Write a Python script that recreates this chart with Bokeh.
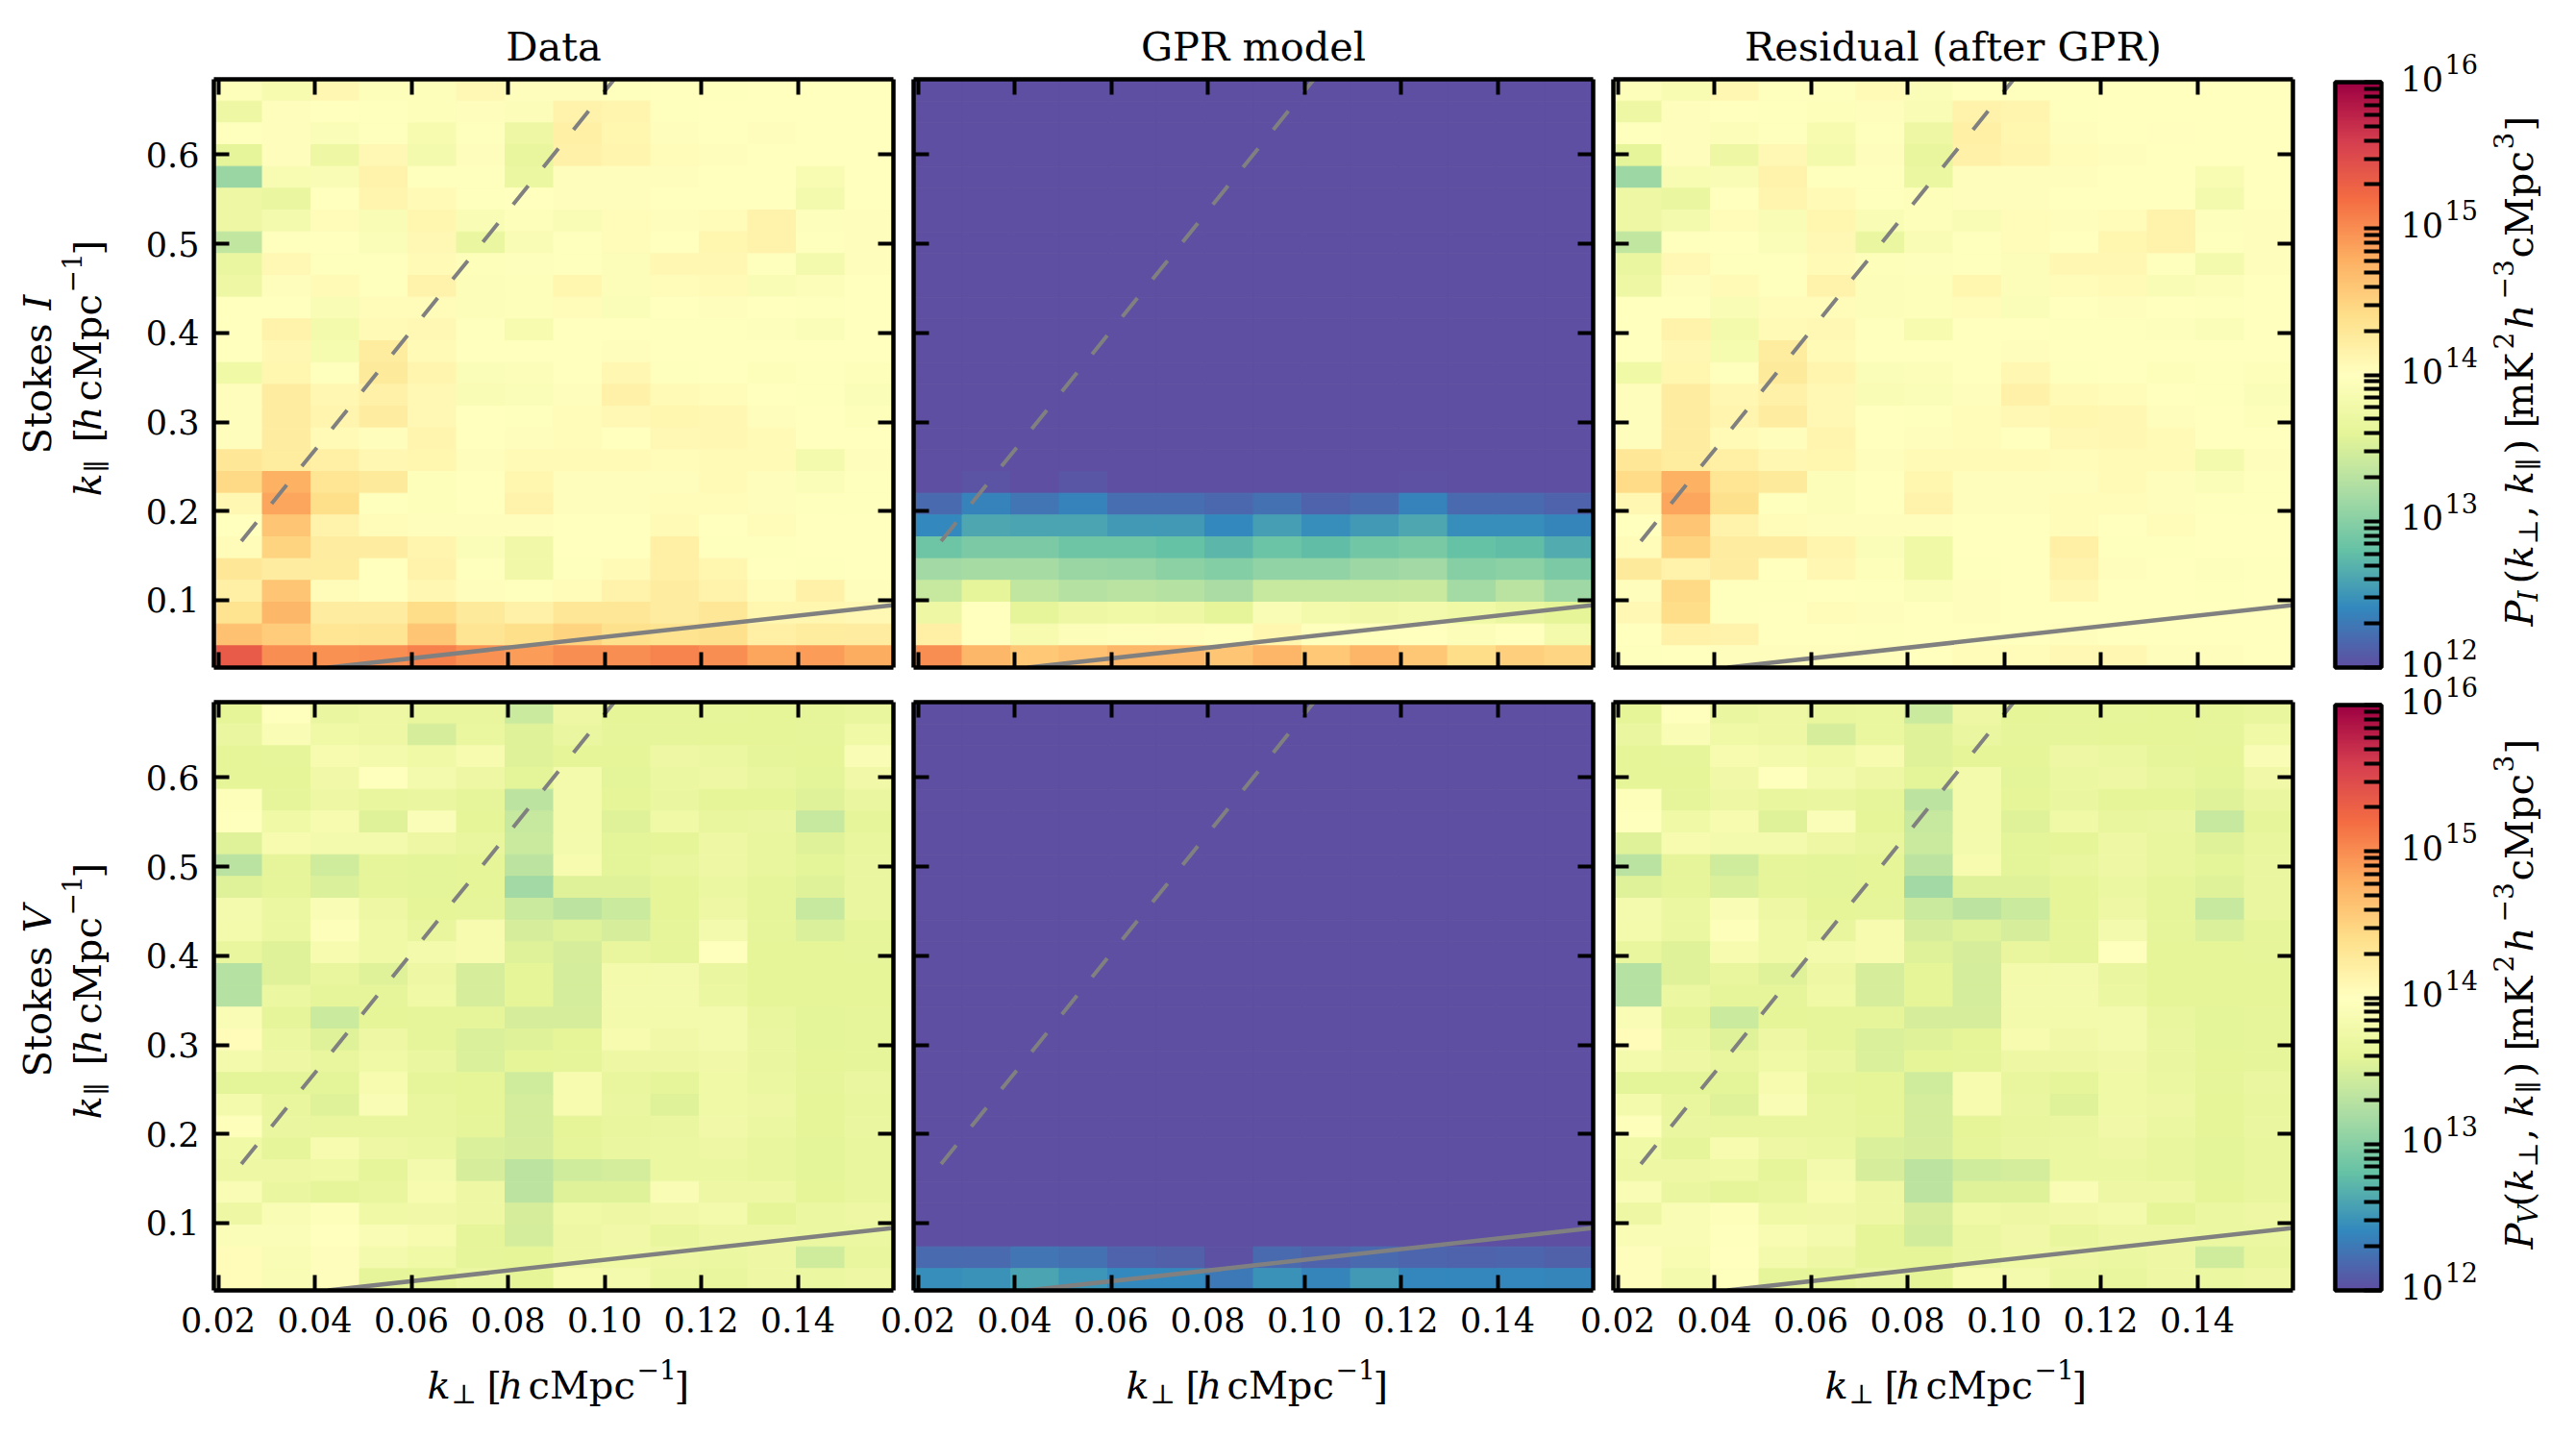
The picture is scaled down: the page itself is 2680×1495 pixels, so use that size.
#!/usr/bin/env python3
# -*- coding: utf-8 -*-
import math

import numpy as np
from bokeh.embed import file_html
from bokeh.layouts import column, row
from bokeh.models import (
    ColorBar,
    ColumnDataSource,
    CustomJSTickFormatter,
    FixedTicker,
    Label,
    LinearAxis,
    LogColorMapper,
    PrintfTickFormatter,
    Range1d,
)
from bokeh.plotting import figure
from bokeh.resources import INLINE

FONT = "DejaVu Serif"
SPECTRAL = ["#5e4fa2", "#3288bd", "#66c2a5", "#abdda4", "#e6f598", "#ffffbf",
            "#fee08b", "#fdae61", "#f46d43", "#d53e4f", "#9e0142"]

TITLES = ["Data", "GPR model", "Residual (after GPR)"]
K_PERP_TICKS = [0.02, 0.04, 0.06, 0.08, 0.10, 0.12, 0.14]
K_PAR_TICKS = [0.1, 0.2, 0.3, 0.4, 0.5, 0.6]
COLORBAR_TICKS = [1e12, 1e13, 1e14, 1e15, 1e16]
COLORBAR_EXPONENTS = ["12", "13", "14", "15", "16"]

WEDGE_X = [0.0427, 0.1598]
WEDGE_Y = [0.0245, 0.0945]
HORIZON_X = [0.0248, 0.102]
HORIZON_Y = [0.1664, 0.6845]

# log10 of the power, rows run top to bottom of the panel
DATA_I = [
    [13.95, 13.85, 14.10, 13.95, 13.95, 14.08, 14.03, 14.02, 13.98, 14.00, 13.98, 14.00, 14.00, 14.00],
    [13.72, 14.03, 14.00, 13.98, 13.95, 14.03, 13.93, 14.15, 14.13, 13.97, 14.00, 14.00, 14.00, 14.00],
    [13.98, 14.03, 13.92, 13.98, 13.85, 13.98, 13.72, 14.20, 14.12, 14.03, 14.00, 14.02, 14.00, 14.00],
    [13.62, 14.03, 13.72, 14.08, 13.82, 14.02, 13.65, 14.18, 14.13, 14.05, 14.02, 14.00, 14.00, 14.00],
    [13.10, 13.87, 13.90, 14.16, 13.97, 13.97, 13.70, 14.03, 14.03, 14.02, 14.00, 14.00, 13.87, 14.00],
    [13.72, 13.68, 14.00, 14.13, 14.07, 13.98, 14.00, 14.03, 14.02, 14.00, 14.00, 14.00, 13.82, 14.00],
    [13.72, 13.82, 14.06, 13.88, 14.12, 13.90, 13.94, 13.90, 14.05, 14.03, 14.05, 14.16, 13.96, 14.02],
    [13.35, 13.98, 14.00, 13.92, 14.08, 13.68, 13.88, 13.97, 14.05, 13.99, 14.12, 14.17, 13.97, 14.03],
    [13.68, 14.08, 13.98, 13.97, 14.07, 13.95, 13.96, 13.98, 13.93, 14.10, 14.10, 13.97, 13.82, 14.03],
    [13.72, 14.02, 14.07, 13.98, 14.15, 13.93, 13.95, 14.12, 13.93, 14.06, 14.07, 13.90, 13.93, 14.00],
    [14.00, 14.00, 13.90, 14.06, 14.06, 13.93, 13.94, 14.06, 13.92, 14.00, 14.02, 14.00, 13.97, 14.00],
    [14.00, 14.16, 13.80, 14.07, 14.08, 13.97, 13.85, 14.00, 14.00, 13.98, 13.97, 13.96, 13.92, 14.00],
    [14.00, 14.10, 13.83, 14.25, 14.07, 14.00, 14.00, 14.00, 14.03, 14.00, 14.00, 14.00, 14.00, 14.00],
    [13.75, 14.12, 13.98, 14.27, 14.13, 13.92, 13.93, 14.00, 14.10, 13.98, 14.00, 13.94, 13.97, 13.94],
    [14.02, 14.22, 14.10, 14.18, 14.08, 13.90, 13.92, 14.02, 14.18, 14.07, 14.05, 14.00, 13.98, 13.92],
    [14.02, 14.22, 14.13, 14.23, 14.08, 14.00, 13.97, 14.05, 14.08, 14.12, 14.10, 14.03, 14.00, 13.95],
    [14.02, 14.22, 14.07, 14.03, 14.13, 14.00, 14.02, 14.04, 14.00, 14.08, 14.10, 14.07, 14.00, 14.00],
    [14.30, 14.25, 14.20, 14.10, 14.12, 14.02, 14.07, 14.07, 14.07, 14.05, 14.07, 14.07, 13.82, 14.03],
    [14.45, 14.78, 14.32, 14.28, 13.95, 14.00, 14.12, 14.03, 14.03, 14.02, 14.07, 14.02, 13.92, 13.98],
    [14.10, 14.85, 14.40, 13.98, 13.95, 14.00, 14.15, 14.03, 14.03, 14.05, 14.05, 14.03, 13.97, 13.98],
    [14.00, 14.62, 14.15, 14.05, 14.02, 14.02, 14.02, 14.00, 14.00, 14.07, 14.00, 14.05, 14.00, 14.00],
    [14.05, 14.50, 14.22, 14.22, 14.13, 13.92, 13.78, 14.00, 14.00, 14.20, 13.97, 13.97, 14.00, 14.00],
    [14.30, 14.22, 14.24, 14.00, 14.15, 13.97, 13.78, 13.97, 14.07, 14.20, 14.12, 14.00, 13.98, 13.99],
    [14.20, 14.62, 14.05, 14.00, 14.10, 14.03, 13.98, 14.05, 14.15, 14.23, 14.15, 14.05, 14.18, 14.03],
    [14.35, 14.72, 14.22, 14.22, 14.42, 14.27, 14.18, 14.30, 14.30, 14.22, 14.30, 14.12, 14.12, 14.08],
    [14.65, 14.55, 14.32, 14.33, 14.62, 14.33, 14.40, 14.50, 14.38, 14.35, 14.38, 14.20, 14.25, 14.22],
    [15.35, 15.00, 14.98, 15.00, 15.07, 14.98, 14.90, 15.00, 15.00, 15.05, 15.00, 14.85, 14.90, 14.80],
]

MODEL_I_FLOOR = [12.0] * 14
MODEL_I = [MODEL_I_FLOOR] * 18 + [
    [12.00, 12.04, 12.00, 12.06, 12.00, 12.00, 12.00, 12.00, 12.00, 12.00, 12.03, 12.00, 12.00, 12.00],
    [12.20, 12.37, 12.27, 12.37, 12.23, 12.22, 12.18, 12.25, 12.15, 12.20, 12.36, 12.20, 12.20, 12.15],
    [12.42, 12.62, 12.60, 12.60, 12.52, 12.53, 12.42, 12.55, 12.45, 12.52, 12.62, 12.44, 12.44, 12.38],
    [12.85, 12.93, 12.93, 12.85, 12.85, 12.80, 12.72, 12.83, 12.78, 12.87, 12.92, 12.80, 12.78, 12.65],
    [13.15, 13.18, 13.18, 13.10, 13.08, 13.03, 12.97, 13.06, 13.05, 13.12, 13.15, 13.00, 13.02, 12.93],
    [13.38, 13.62, 13.35, 13.28, 13.30, 13.27, 13.20, 13.38, 13.38, 13.38, 13.40, 13.17, 13.30, 13.13],
    [13.72, 14.00, 13.62, 13.72, 13.75, 13.72, 13.62, 13.90, 13.80, 13.78, 13.80, 13.75, 13.68, 13.60],
    [14.20, 14.00, 13.85, 13.93, 13.96, 14.03, 13.97, 14.12, 13.98, 13.98, 14.00, 13.93, 14.00, 13.80],
    [15.00, 14.72, 14.58, 14.65, 14.72, 14.72, 14.62, 14.75, 14.58, 14.75, 14.60, 14.42, 14.52, 14.48],
]

RESIDUAL_I = [
    [13.95, 13.86, 14.10, 13.97, 13.97, 14.07, 13.92, 14.00, 13.98, 14.00, 13.99, 14.00, 14.00, 14.00],
    [13.72, 14.03, 14.00, 13.98, 13.95, 14.03, 13.90, 14.16, 14.13, 13.97, 14.00, 14.00, 14.00, 14.00],
    [13.97, 14.03, 13.93, 13.97, 13.85, 13.98, 13.72, 14.20, 14.12, 14.03, 14.00, 14.01, 14.00, 14.00],
    [13.62, 14.03, 13.72, 14.08, 13.80, 14.02, 13.65, 14.18, 14.13, 14.05, 14.02, 14.00, 14.00, 14.00],
    [13.12, 13.87, 13.90, 14.16, 13.97, 13.97, 13.70, 14.03, 14.02, 14.02, 14.00, 14.00, 13.87, 14.00],
    [13.72, 13.68, 14.00, 14.13, 14.07, 13.98, 13.95, 14.03, 14.02, 14.00, 14.00, 14.00, 13.82, 14.00],
    [13.72, 13.82, 14.06, 13.88, 14.12, 13.90, 13.94, 13.90, 14.05, 14.03, 14.05, 14.16, 13.96, 14.02],
    [13.35, 13.98, 14.00, 13.92, 14.08, 13.68, 13.88, 13.97, 14.05, 13.99, 14.12, 14.17, 13.97, 14.03],
    [13.68, 14.08, 13.98, 13.97, 14.07, 13.95, 13.96, 13.98, 13.93, 14.10, 14.10, 13.97, 13.82, 14.03],
    [13.72, 14.02, 14.07, 13.98, 14.15, 13.93, 13.95, 14.12, 13.93, 14.06, 14.07, 13.90, 13.93, 14.00],
    [14.00, 14.00, 13.90, 14.06, 14.06, 13.93, 13.94, 14.06, 13.92, 14.00, 14.02, 14.00, 13.97, 14.00],
    [14.00, 14.16, 13.80, 14.07, 14.08, 13.97, 13.85, 14.00, 14.00, 13.98, 13.97, 13.96, 13.92, 14.00],
    [14.00, 14.10, 13.83, 14.25, 14.07, 14.00, 14.00, 14.00, 14.03, 14.00, 14.00, 14.00, 14.00, 14.00],
    [13.75, 14.12, 13.98, 14.27, 14.13, 13.92, 13.93, 14.00, 14.10, 13.98, 14.00, 13.94, 13.97, 13.94],
    [14.02, 14.22, 14.10, 14.18, 14.08, 13.90, 13.92, 14.02, 14.18, 14.07, 14.05, 14.00, 13.98, 13.92],
    [14.02, 14.22, 14.13, 14.23, 14.08, 14.00, 13.97, 14.05, 14.08, 14.12, 14.10, 14.03, 14.00, 13.95],
    [14.02, 14.22, 14.07, 14.03, 14.13, 14.00, 14.02, 14.04, 14.00, 14.08, 14.10, 14.07, 14.00, 14.00],
    [14.30, 14.25, 14.20, 14.10, 14.12, 14.02, 14.07, 14.07, 14.07, 14.05, 14.07, 14.07, 13.82, 14.03],
    [14.43, 14.78, 14.32, 14.28, 13.93, 14.00, 14.12, 14.03, 14.03, 14.02, 14.07, 14.02, 13.92, 13.98],
    [14.10, 14.85, 14.38, 13.98, 13.93, 14.00, 14.15, 14.03, 14.03, 14.05, 14.05, 14.03, 13.97, 13.98],
    [14.00, 14.62, 14.15, 14.05, 14.02, 14.02, 14.02, 14.00, 14.00, 14.06, 14.00, 14.05, 14.00, 14.00],
    [14.05, 14.50, 14.22, 14.22, 14.13, 13.92, 13.75, 14.00, 14.00, 14.20, 13.97, 13.97, 14.00, 14.00],
    [14.28, 14.17, 14.22, 14.00, 14.10, 13.95, 13.75, 13.97, 14.00, 14.15, 14.03, 14.00, 13.96, 13.98],
    [14.02, 14.45, 13.98, 13.97, 13.99, 13.98, 13.92, 14.02, 14.00, 14.10, 14.00, 14.00, 13.98, 14.00],
    [14.08, 14.42, 13.98, 14.00, 14.05, 14.03, 14.00, 14.02, 14.00, 14.00, 14.00, 14.00, 14.00, 14.00],
    [14.00, 14.18, 14.15, 14.00, 14.00, 13.98, 14.00, 14.00, 14.00, 14.02, 14.00, 14.00, 14.00, 14.00],
    [13.98, 14.00, 14.03, 14.03, 14.02, 14.02, 14.00, 14.05, 14.05, 14.08, 14.10, 14.03, 14.02, 14.00],
]

DATA_V = [
    [13.60, 13.98, 13.68, 13.72, 13.65, 13.65, 13.42, 13.72, 13.60, 13.62, 13.62, 13.60, 13.62, 13.65],
    [13.68, 13.88, 13.75, 13.72, 13.50, 13.67, 13.55, 13.68, 13.62, 13.62, 13.60, 13.60, 13.62, 13.75],
    [13.60, 13.62, 13.85, 13.80, 13.75, 13.85, 13.55, 13.60, 13.60, 13.72, 13.70, 13.62, 13.60, 13.90],
    [13.60, 13.60, 13.78, 13.98, 13.82, 13.72, 13.58, 13.80, 13.58, 13.70, 13.72, 13.65, 13.58, 13.78],
    [13.95, 13.62, 13.72, 13.65, 13.68, 13.62, 13.32, 13.80, 13.60, 13.68, 13.60, 13.60, 13.55, 13.68],
    [13.98, 13.75, 13.85, 13.55, 13.92, 13.60, 13.38, 13.80, 13.55, 13.75, 13.65, 13.68, 13.38, 13.62],
    [13.55, 13.85, 13.82, 13.82, 13.72, 13.65, 13.42, 13.82, 13.58, 13.60, 13.72, 13.65, 13.55, 13.65],
    [13.30, 13.62, 13.45, 13.62, 13.58, 13.60, 13.32, 13.85, 13.58, 13.65, 13.72, 13.65, 13.58, 13.68],
    [13.55, 13.62, 13.52, 13.62, 13.58, 13.60, 13.15, 13.55, 13.55, 13.60, 13.70, 13.62, 13.55, 13.68],
    [13.82, 13.70, 13.90, 13.72, 13.60, 13.62, 13.42, 13.32, 13.42, 13.60, 13.72, 13.62, 13.38, 13.68],
    [13.80, 13.70, 13.95, 13.75, 13.65, 13.85, 13.50, 13.55, 13.50, 13.62, 13.82, 13.62, 13.52, 13.62],
    [13.65, 13.55, 13.85, 13.75, 13.80, 13.85, 13.55, 13.50, 13.65, 13.62, 13.98, 13.60, 13.60, 13.62],
    [13.28, 13.55, 13.65, 13.55, 13.72, 13.50, 13.60, 13.48, 13.80, 13.82, 13.68, 13.60, 13.60, 13.60],
    [13.28, 13.70, 13.62, 13.62, 13.75, 13.50, 13.60, 13.48, 13.82, 13.82, 13.70, 13.60, 13.60, 13.60],
    [13.90, 13.62, 13.42, 13.60, 13.62, 13.62, 13.50, 13.50, 13.80, 13.80, 13.82, 13.65, 13.58, 13.62],
    [14.05, 13.70, 13.55, 13.72, 13.62, 13.52, 13.55, 13.60, 13.85, 13.78, 13.82, 13.68, 13.58, 13.62],
    [13.80, 13.72, 13.65, 13.75, 13.68, 13.52, 13.60, 13.62, 13.72, 13.72, 13.78, 13.68, 13.60, 13.62],
    [13.58, 13.58, 13.58, 13.85, 13.62, 13.60, 13.45, 13.85, 13.65, 13.62, 13.75, 13.70, 13.62, 13.68],
    [13.80, 13.65, 13.55, 13.88, 13.65, 13.60, 13.48, 13.85, 13.68, 13.55, 13.75, 13.72, 13.60, 13.65],
    [13.95, 13.68, 13.65, 13.65, 13.65, 13.62, 13.48, 13.60, 13.65, 13.68, 13.78, 13.70, 13.60, 13.68],
    [13.75, 13.62, 13.85, 13.72, 13.70, 13.52, 13.50, 13.62, 13.68, 13.70, 13.72, 13.65, 13.58, 13.65],
    [13.72, 13.72, 13.75, 13.62, 13.82, 13.50, 13.32, 13.45, 13.48, 13.70, 13.70, 13.65, 13.58, 13.65],
    [13.88, 13.68, 13.62, 13.65, 13.85, 13.72, 13.32, 13.55, 13.55, 13.88, 13.72, 13.72, 13.60, 13.65],
    [13.72, 13.88, 13.95, 13.75, 13.78, 13.72, 13.50, 13.75, 13.72, 13.78, 13.80, 13.60, 13.70, 13.72],
    [13.92, 13.92, 14.00, 13.88, 13.85, 13.62, 13.48, 13.72, 13.78, 13.65, 13.72, 13.72, 13.70, 13.70],
    [14.05, 13.88, 14.03, 13.82, 13.75, 13.62, 13.60, 13.72, 13.75, 13.72, 13.70, 13.72, 13.45, 13.65],
    [14.05, 13.88, 14.03, 13.62, 13.60, 13.70, 13.60, 13.85, 13.82, 13.70, 13.65, 13.72, 13.70, 13.72],
]

MODEL_V_FLOOR = [12.0] * 14
MODEL_V = [MODEL_V_FLOOR] * 25 + [
    [12.20, 12.20, 12.27, 12.25, 12.15, 12.12, 12.03, 12.20, 12.15, 12.20, 12.17, 12.15, 12.17, 12.13],
    [12.45, 12.47, 12.60, 12.50, 12.42, 12.42, 12.30, 12.48, 12.38, 12.53, 12.40, 12.40, 12.40, 12.38],
]

RESIDUAL_V = [
    [13.60, 13.98, 13.68, 13.72, 13.65, 13.66, 13.42, 13.72, 13.60, 13.62, 13.62, 13.60, 13.62, 13.65],
    [13.68, 13.88, 13.75, 13.72, 13.50, 13.67, 13.55, 13.68, 13.62, 13.62, 13.60, 13.60, 13.62, 13.75],
    [13.60, 13.62, 13.85, 13.80, 13.75, 13.85, 13.55, 13.60, 13.60, 13.72, 13.70, 13.62, 13.60, 13.90],
    [13.60, 13.60, 13.78, 13.98, 13.82, 13.72, 13.58, 13.80, 13.58, 13.70, 13.72, 13.65, 13.58, 13.78],
    [13.95, 13.62, 13.72, 13.65, 13.68, 13.62, 13.32, 13.80, 13.60, 13.68, 13.60, 13.60, 13.55, 13.68],
    [13.98, 13.75, 13.85, 13.55, 13.92, 13.60, 13.38, 13.80, 13.55, 13.75, 13.65, 13.68, 13.38, 13.62],
    [13.55, 13.85, 13.82, 13.82, 13.72, 13.65, 13.42, 13.82, 13.58, 13.60, 13.72, 13.65, 13.55, 13.65],
    [13.30, 13.62, 13.45, 13.62, 13.58, 13.60, 13.32, 13.85, 13.58, 13.65, 13.72, 13.65, 13.58, 13.68],
    [13.55, 13.62, 13.52, 13.62, 13.58, 13.60, 13.15, 13.55, 13.55, 13.60, 13.70, 13.62, 13.55, 13.68],
    [13.82, 13.70, 13.90, 13.72, 13.60, 13.62, 13.42, 13.32, 13.42, 13.60, 13.72, 13.62, 13.38, 13.68],
    [13.80, 13.70, 13.95, 13.75, 13.65, 13.85, 13.50, 13.55, 13.50, 13.62, 13.82, 13.62, 13.52, 13.62],
    [13.65, 13.55, 13.85, 13.75, 13.80, 13.85, 13.55, 13.50, 13.65, 13.62, 13.98, 13.60, 13.60, 13.62],
    [13.28, 13.55, 13.65, 13.55, 13.72, 13.50, 13.60, 13.48, 13.80, 13.82, 13.68, 13.60, 13.60, 13.60],
    [13.28, 13.70, 13.62, 13.62, 13.75, 13.50, 13.60, 13.48, 13.82, 13.82, 13.70, 13.60, 13.60, 13.60],
    [13.90, 13.62, 13.42, 13.60, 13.62, 13.62, 13.50, 13.50, 13.80, 13.80, 13.82, 13.65, 13.58, 13.62],
    [14.05, 13.70, 13.55, 13.72, 13.62, 13.52, 13.55, 13.60, 13.85, 13.78, 13.82, 13.68, 13.58, 13.62],
    [13.80, 13.72, 13.65, 13.75, 13.68, 13.52, 13.60, 13.62, 13.72, 13.72, 13.78, 13.68, 13.60, 13.62],
    [13.58, 13.58, 13.58, 13.85, 13.62, 13.60, 13.45, 13.85, 13.65, 13.62, 13.75, 13.70, 13.62, 13.68],
    [13.80, 13.65, 13.55, 13.88, 13.65, 13.60, 13.48, 13.85, 13.68, 13.55, 13.75, 13.72, 13.60, 13.65],
    [13.95, 13.68, 13.65, 13.65, 13.65, 13.62, 13.48, 13.60, 13.65, 13.68, 13.78, 13.70, 13.60, 13.68],
    [13.75, 13.62, 13.85, 13.72, 13.70, 13.52, 13.50, 13.62, 13.68, 13.70, 13.72, 13.65, 13.58, 13.65],
    [13.72, 13.72, 13.75, 13.62, 13.82, 13.50, 13.32, 13.45, 13.48, 13.70, 13.70, 13.65, 13.58, 13.65],
    [13.88, 13.68, 13.62, 13.65, 13.85, 13.72, 13.32, 13.55, 13.55, 13.88, 13.72, 13.72, 13.60, 13.65],
    [13.72, 13.88, 13.95, 13.75, 13.78, 13.72, 13.50, 13.75, 13.72, 13.78, 13.80, 13.60, 13.70, 13.72],
    [13.90, 13.90, 13.98, 13.86, 13.82, 13.60, 13.46, 13.70, 13.78, 13.65, 13.72, 13.72, 13.70, 13.70],
    [14.02, 13.86, 14.00, 13.80, 13.72, 13.60, 13.60, 13.70, 13.75, 13.72, 13.70, 13.72, 13.45, 13.65],
    [14.02, 13.82, 13.98, 13.62, 13.60, 13.68, 13.60, 13.85, 13.82, 13.70, 13.65, 13.72, 13.70, 13.72],
]

X_RANGE = (0.0191, 0.1598)
Y_RANGE = (0.0245, 0.6845)
K_PERP_EDGES = np.linspace(X_RANGE[0], X_RANGE[1], 15)
K_PAR_EDGES = np.linspace(Y_RANGE[1], Y_RANGE[0], 28)

FRAME_W = 707
FRAME_H = 612
LEFT_W = 222
TOP_H = 82
GAP_X = 21
GAP_Y = 36
PAGE_W = 2664
PAGE_H = 1479
ROW_PITCH = 648
COL_PITCH = 727


def spectral_palette(n=256):
    # same linear segments as the matplotlib Spectral map
    rgb = np.array([[int(c[i:i + 2], 16) for i in (1, 3, 5)] for c in SPECTRAL], dtype=float)
    pos = np.linspace(0, 1, len(SPECTRAL))
    t = np.linspace(0, 1, n)
    out = [np.interp(t, pos, rgb[:, i]) for i in range(3)]
    return ["#%02x%02x%02x" % (round(r), round(g), round(b)) for r, g, b in zip(*out)]


def rich_label(p, x, y, parts, angle=0.0):
    # text pieces set one after the other, x and y in page px
    ca, sa = math.cos(angle), math.sin(angle)
    for text, style, size, rise, adv in parts:
        p.add_layout(Label(
            x=x - rise * sa, y=y - rise * ca,
            text=text, angle=angle, text_font=FONT, text_font_style=style,
            text_font_size=f"{size}px", text_color="black",
            text_baseline="alphabetic", text_align="left",
        ))
        x += adv * ca
        y -= adv * sa


def unit_parts():
    return [
        ("[", "normal", 40, 0, 12), ("h", "italic", 40, 0, 31),
        ("cMpc", "normal", 40, 0, 113), ("−1", "normal", 28, 16, 39), ("]", "normal", 40, 0, 10),
    ]


K_PERP_PARTS = [("k", "italic", 40, 0, 25), ("⊥", "normal", 28, -10, 37)] + unit_parts()
K_PAR_PARTS = [("k", "italic", 40, 0, 25), ("∥", "normal", 28, -10, 31)] + unit_parts()


def power_parts(sub):
    return [
        ("P", "italic", 40, 0, 26), (sub, "italic", 28, -10, 18), ("(", "normal", 40, 0, 16),
        ("k", "italic", 40, 0, 25), ("⊥", "normal", 28, -10, 28), (",", "normal", 40, 0, 24),
        ("k", "italic", 40, 0, 25), ("∥", "normal", 28, -10, 17), (")", "normal", 40, 0, 27),
        ("[", "normal", 40, 0, 10), ("mK", "normal", 40, 0, 72), ("2", "normal", 28, 16, 21),
        ("h", "italic", 40, 0, 31), ("−3", "normal", 28, 16, 43), ("cMpc", "normal", 40, 0, 113),
        ("3", "normal", 28, 16, 19), ("]", "normal", 40, 0, 10),
    ]


def panel(values, col, row_idx, mapper):
    p = figure(
        output_backend="svg",
        toolbar_location=None,
        frame_width=FRAME_W,
        frame_height=FRAME_H,
        x_range=Range1d(*X_RANGE),
        y_range=Range1d(*Y_RANGE),
        min_border_left=LEFT_W if col == 0 else 60,
        min_border_right=280 if col == 2 else 10,
        min_border_top=TOP_H if row_idx == 0 else 38,
        min_border_bottom=38 if row_idx == 0 else 130,
        border_fill_color=None,
        background_fill_color=None,
        title=TITLES[col] if row_idx == 0 else None,
    )
    if row_idx == 0:
        p.title.align = "center"
        p.title.text_font = FONT
        p.title.text_font_style = "normal"
        p.title.text_font_size = "41.5px"
        p.title.text_color = "black"
        p.title.standoff = 19

    tops, lefts, rights, bottoms, vals = [], [], [], [], []
    for i, vals_row in enumerate(values):
        for j, v in enumerate(vals_row):
            lefts.append(K_PERP_EDGES[j])
            rights.append(K_PERP_EDGES[j + 1])
            tops.append(K_PAR_EDGES[i])
            bottoms.append(K_PAR_EDGES[i + 1])
            vals.append(10.0 ** v)
    src = ColumnDataSource(data=dict(left=lefts, right=rights, top=tops, bottom=bottoms, value=vals))
    cmap = {"field": "value", "transform": mapper}
    p.quad(left="left", right="right", top="top", bottom="bottom", source=src,
           fill_color=cmap, line_color=cmap, line_width=1)

    p.line(WEDGE_X, WEDGE_Y, line_color="#808080", line_width=4.5)
    p.line(HORIZON_X, HORIZON_Y, line_color="#808080", line_width=4, line_dash="25 25")

    p.grid.visible = False
    p.add_layout(LinearAxis(), "above")
    p.add_layout(LinearAxis(), "right")
    blank = CustomJSTickFormatter(code="return ''")
    for ax in p.xaxis:
        ax.ticker = FixedTicker(ticks=K_PERP_TICKS)
        ax.formatter = blank
    for ax in p.yaxis:
        ax.ticker = FixedTicker(ticks=K_PAR_TICKS)
        ax.formatter = blank
    for ax in p.axis:
        ax.axis_line_color = "black"
        ax.axis_line_width = 4.5
        ax.major_tick_line_color = "black"
        ax.major_tick_line_width = 4
        ax.major_tick_in = 16
        ax.major_tick_out = 0
        ax.minor_tick_line_color = None
        ax.major_label_text_font = FONT
        ax.major_label_text_font_size = "35px"
        ax.major_label_text_color = "black"
        ax.major_label_standoff = 17
    p.left[0].major_label_standoff = 15
    if col == 0:
        p.left[0].formatter = PrintfTickFormatter(format="%.1f")
    if row_idx == 1:
        p.below[0].formatter = PrintfTickFormatter(format="%.2f")
    if col == 2:
        bar = ColorBar(
            color_mapper=mapper,
            ticker=FixedTicker(
                ticks=COLORBAR_TICKS,
                minor_ticks=[m * d for d in COLORBAR_TICKS[:-1] for m in range(2, 10)],
            ),
            formatter=blank,
            location=(751, 0),
            width=48,
            height=FRAME_H - 3,
            padding=0,
            margin=0,
            major_tick_line_color="black",
            major_tick_line_width=4,
            major_tick_in=18,
            minor_tick_line_color="black",
            minor_tick_line_width=4,
            minor_tick_in=18,
            bar_line_color="black",
            bar_line_width=4.5,
        )
        p.add_layout(bar)
    return p


def text_layer():
    # see-through page sized plot that holds the mixed style labels
    p = figure(
        output_backend="svg",
        toolbar_location=None,
        width=PAGE_W,
        height=PAGE_H,
        x_range=Range1d(0, PAGE_W),
        y_range=Range1d(PAGE_H, 0),
        x_axis_location=None,
        y_axis_location=None,
        min_border=0,
        outline_line_color=None,
        border_fill_color=None,
        background_fill_color=None,
    )
    p.grid.visible = False
    for col in range(3):
        rich_label(p, 444 + col * COL_PITCH, 1440, K_PERP_PARTS)
    for r, stokes in enumerate(["I", "V"]):
        dy = r * ROW_PITCH
        rich_label(p, 38, 472 + dy, [("Stokes", "normal", 40, 0, 150), (stokes, "italic", 40, 0, 20)], math.pi / 2)
        rich_label(p, 90, 516 + dy, K_PAR_PARTS, math.pi / 2)
        rich_label(p, 2620, 651 + dy, power_parts(stokes), math.pi / 2)
        for i, exp in enumerate(COLORBAR_EXPONENTS):
            base = 690 + dy - i * 152.25
            rich_label(p, 2497, base, [("10", "normal", 35, 0, 46), (exp, "normal", 27, 15, 0)])
    return p


TABLES = [[DATA_I, MODEL_I, RESIDUAL_I], [DATA_V, MODEL_V, RESIDUAL_V]]
mapper = LogColorMapper(palette=spectral_palette(), low=1e12, high=1e16)

rows = []
for r, tables in enumerate(TABLES):
    figs = []
    for c, values in enumerate(tables):
        f = panel(values, c, r, mapper)
        if c > 0:
            f.margin = (0, 0, 0, GAP_X - 70)
        figs.append(f)
    rows.append(row(*figs, margin=(0 if r == 0 else GAP_Y - 76, 0, 0, 0)))

rows_height = 82 + FRAME_H + 38 + GAP_Y - 76 + 38 + FRAME_H + 130
labels = text_layer()
labels.margin = (-rows_height, 0, 0, 0)

p = column(*rows, labels)
open("out.html", "w").write(file_html(p, INLINE))
